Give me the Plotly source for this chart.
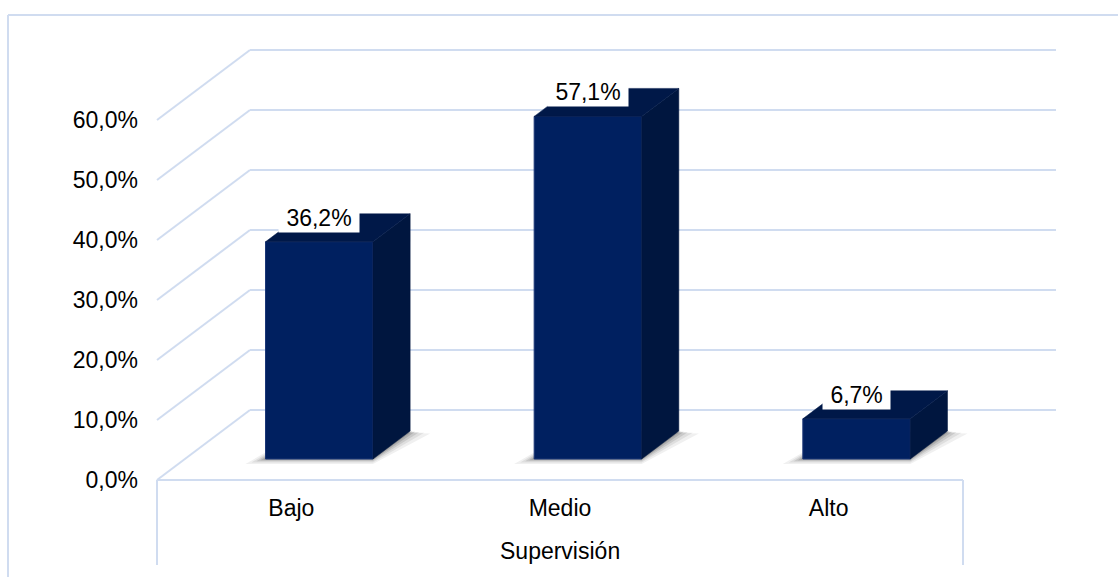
import plotly.graph_objects as go

# ---- data ----
categories = ["Bajo", "Medio", "Alto"]
values = [36.2, 57.1, 6.7]
y_ticks = [0, 10, 20, 30, 40, 50, 60]
y_tick_labels = ["0,0%", "10,0%", "20,0%", "30,0%", "40,0%", "50,0%", "60,0%"]
axis_title = "Supervisión"

# ---- 3D oblique geometry (in axis units) ----
PXX = 268.667          # px per category unit
PXY = 6.0              # px per percent unit
DX = 93 / PXX          # full depth offset, x
DY = 70 / PXY          # full depth offset, y
T0, T1 = 0.3, 0.7      # bar depth span
W = 0.4                # bar width (category units)
SDX = (T1 - T0) * DX
SDY = (T1 - T0) * DY
BASE = T0 * DY

FRONT = "#002060"
SIDE = "#00163F"
TOP = "#001848"
GRID = "#D0DCF0"
FONT = "Liberation Sans, Arial, sans-serif"

PLOT_L = 150
X0 = -0.5 - (157 - PLOT_L) / PXX
X1 = X0 + (1118 - PLOT_L) / PXX
Y0 = -(577 - 480) / PXY
Y1 = 480 / PXY

fig = go.Figure()
shapes = []

xs_front = [i + T0 * DX for i in range(len(categories))]

# grid: left wall diagonals + back wall lines
for v in y_ticks:
    shapes.append(dict(type="line", xref="x", yref="y", x0=-0.5, y0=v,
                       x1=-0.5 + DX, y1=v + DY, line=dict(color=GRID, width=2),
                       layer="below"))
    shapes.append(dict(type="line", xref="x", yref="y", x0=-0.5 + DX, y0=v + DY,
                       x1=len(categories) - 0.5 + DX, y1=v + DY,
                       line=dict(color=GRID, width=2), layer="below"))
# floor front edge + category box verticals
shapes.append(dict(type="line", xref="x", yref="y", x0=-0.5, y0=0,
                   x1=len(categories) - 0.5, y1=0, line=dict(color=GRID, width=2),
                   layer="below"))
for xv in [-0.5, len(categories) - 0.5]:
    shapes.append(dict(type="line", xref="x", yref="y", x0=xv, y0=0, x1=xv,
                       y1=-85 / PXY, line=dict(color=GRID, width=2), layer="below"))

# soft shadows under bars (below traces)
for e, op in [(20, 0.07), (14, 0.09), (9, 0.12), (5, 0.15), (2, 0.18)]:
    for xc in xs_front:
        xl = xc - W / 2
        xr = xc + W / 2
        ex = e / PXX
        ey = (e / 4) / PXY
        pts = [(xl - ex, BASE - ey), (xr, BASE - ey),
               (xr + SDX + ex, BASE + SDY - ey * 0.5), (xl + SDX, BASE + SDY)]
        path = "M " + " L ".join(f"{px},{py}" for px, py in pts) + " Z"
        shapes.append(dict(type="path", xref="x", yref="y", path=path,
                           fillcolor=f"rgba(40,40,40,{op})", line=dict(width=0),
                           layer="below"))

# front faces
fig.add_trace(go.Bar(x=xs_front, y=values, base=BASE, width=W,
                     marker=dict(color=FRONT, line=dict(color="#1A3676", width=1)),
                     hoverinfo="skip"))

# side and top faces
for xc, v in zip(xs_front, values):
    xl = xc - W / 2
    xr = xc + W / 2
    top = BASE + v
    fig.add_trace(go.Scatter(
        x=[xr, xr + SDX, xr + SDX, xr, xr],
        y=[BASE, BASE + SDY, top + SDY, top, BASE],
        mode="lines", fill="toself", fillcolor=SIDE,
        line=dict(color=SIDE, width=0.5), hoverinfo="skip"))
    fig.add_trace(go.Scatter(
        x=[xl, xr, xr + SDX, xl + SDX, xl],
        y=[top, top, top + SDY, top + SDY, top],
        mode="lines", fill="toself", fillcolor=TOP,
        line=dict(color=TOP, width=0.5), hoverinfo="skip"))

# data labels
for xc, v in zip(xs_front, values):
    txt = f"{v:.1f}%".replace(".", ",")
    fig.add_annotation(x=xc, y=BASE + v, text="\u00a0" + txt + "\u00a0",
                       showarrow=False, yshift=24, bgcolor="white", borderpad=1,
                       font=dict(family=FONT, size=23, color="#000000"))

# chart border (left and top)
bx = (8 - PLOT_L) / (1118 - PLOT_L)
by = (577 - 15) / 577
shapes.append(dict(type="line", xref="paper", yref="paper", x0=bx, y0=0, x1=bx, y1=by,
                   line=dict(color=GRID, width=2)))
shapes.append(dict(type="line", xref="paper", yref="paper", x0=bx, y0=by, x1=1, y1=by,
                   line=dict(color=GRID, width=2)))

fig.add_annotation(x=1, y=-(551 - 480) / PXY, text=axis_title, showarrow=False,
                   font=dict(family=FONT, size=23, color="#000000"))

fig.update_layout(
    width=1118, height=577,
    margin=dict(l=PLOT_L, r=0, t=0, b=0),
    paper_bgcolor="white", plot_bgcolor="white",
    showlegend=False,
    font=dict(family=FONT, size=23, color="#000000"),
    shapes=shapes,
)
fig.update_xaxes(range=[X0, X1], anchor="free", position=(577 - 480) / 577,
                 tickmode="array", tickvals=list(range(len(categories))),
                 ticktext=categories, showgrid=False, zeroline=False,
                 showline=False, ticks="", ticklabelstandoff=12, fixedrange=True)
fig.update_yaxes(range=[Y0, Y1], tickmode="array", tickvals=y_ticks,
                 ticktext=y_tick_labels, showgrid=False, zeroline=False,
                 showline=False, ticks="", ticklabelstandoff=11, fixedrange=True)

fig.write_html("out.html", config={"displayModeBar": False})
